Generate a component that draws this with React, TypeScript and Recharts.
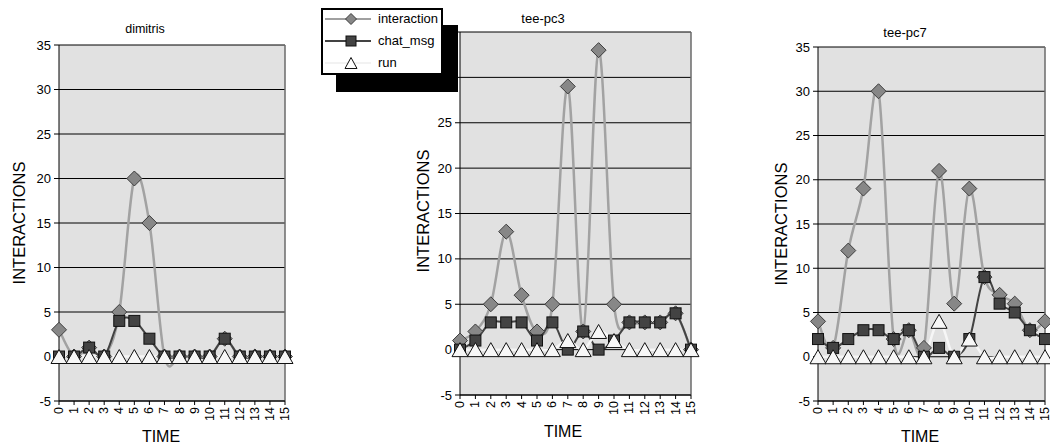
import React from 'react';
import { LineChart, Line, XAxis, YAxis, CartesianGrid, ReferenceLine, Legend } from 'recharts';

// time steps on the x axis
const TIME = [0, 1, 2, 3, 4, 5, 6, 7, 8, 9, 10, 11, 12, 13, 14, 15];
const Y_TICKS = [-5, 0, 5, 10, 15, 20, 25, 30, 35];
const SERIES = ['interaction', 'chat_msg', 'run'];

// dimitris
const dimitrisInteraction = [3, 0, 1, 0, 5, 20, 15, 0, 0, 0, 0, 2, 0, 0, 0, 0];
const dimitrisChat = [0, 0, 1, 0, 4, 4, 2, 0, 0, 0, 0, 2, 0, 0, 0, 0];
const dimitrisRun = [0, 0, 0, 0, 0, 0, 0, 0, 0, 0, 0, 0, 0, 0, 0, 0];

// tee-pc3
const pc3Interaction = [1, 2, 5, 13, 6, 2, 5, 29, 2, 33, 5, 3, 3, 3, 4, 0];
const pc3Chat = [0, 1, 3, 3, 3, 1, 3, 0, 2, 0, 1, 3, 3, 3, 4, 0];
const pc3Run = [0, 0, 0, 0, 0, 0, 0, 1, 0, 2, 1, 0, 0, 0, 0, 0];

// tee-pc7
const pc7Interaction = [4, 1, 12, 19, 30, 2, 3, 1, 21, 6, 19, 9, 7, 6, 3, 4];
const pc7Chat = [2, 1, 2, 3, 3, 2, 3, 0, 1, 0, 2, 9, 6, 5, 3, 2];
const pc7Run = [0, 0, 0, 0, 0, 0, 0, 0, 4, 0, 2, 0, 0, 0, 0, 0];

const FONT = '"Liberation Sans", Arial, sans-serif';

const build = (a: number[], b: number[], c: number[]) =>
  TIME.map((t, i) => ({ t, interaction: a[i], chat_msg: b[i], run: c[i] }));

// Excel-like smoothed line (catmull-rom through the points)
const smoothCurve: any = (context: any) => {
  let pts: number[][] = [];
  return {
    areaStart() {},
    areaEnd() {},
    lineStart() {
      pts = [];
    },
    point(x: number, y: number) {
      pts.push([+x, +y]);
    },
    lineEnd() {
      const n = pts.length;
      if (!n) return;
      context.moveTo(pts[0][0], pts[0][1]);
      for (let i = 0; i < n - 1; i++) {
        const p0 = pts[Math.max(i - 1, 0)];
        const p1 = pts[i];
        const p2 = pts[i + 1];
        const p3 = pts[Math.min(i + 2, n - 1)];
        context.bezierCurveTo(
          p1[0] + (p2[0] - p0[0]) / 6,
          p1[1] + (p2[1] - p0[1]) / 6,
          p2[0] - (p3[0] - p1[0]) / 6,
          p2[1] - (p3[1] - p1[1]) / 6,
          p2[0],
          p2[1]
        );
      }
    },
  };
};

const diamond = (cx: number, cy: number, r: number) =>
  `M${cx},${cy - r}L${cx + r},${cy}L${cx},${cy + r}L${cx - r},${cy}Z`;
const triangle = (cx: number, cy: number, w: number, h: number) =>
  `M${cx},${cy - h}L${cx + w},${cy + h}L${cx - w},${cy + h}Z`;

const DiamondDot = (props: any) => {
  const { cx, cy, index } = props;
  if (cx == null || cy == null) return <g key={`dm-${index}`} />;
  return <path key={`dm-${index}`} d={diamond(cx, cy, 7.5)} fill="#878787" stroke="#3c3c3c" strokeWidth={1} />;
};

const SquareDot = (props: any) => {
  const { cx, cy, index } = props;
  if (cx == null || cy == null) return <g key={`sq-${index}`} />;
  return <rect key={`sq-${index}`} x={cx - 5.5} y={cy - 5.5} width={11} height={11} fill="#434343" stroke="#111" strokeWidth={1} />;
};

const TriangleDot = (props: any) => {
  const { cx, cy, index } = props;
  if (cx == null || cy == null) return <g key={`tr-${index}`} />;
  return <path key={`tr-${index}`} d={triangle(cx, cy, 8, 7)} fill="#f7f7f7" stroke="#111" strokeWidth={1} />;
};

const TimeTick = (props: any) => {
  const { x, y, payload } = props;
  return (
    <text
      x={x}
      y={y}
      transform={`rotate(-90, ${x}, ${y})`}
      textAnchor="end"
      dominantBaseline="central"
      fontSize={12.5}
      fill="#000"
      fontFamily={FONT}
    >
      {payload.value}
    </text>
  );
};

const legendIcon = (name: string) => {
  if (name === 'interaction')
    return (
      <g>
        <line x1={2} y1={10} x2={48} y2={10} stroke="#a0a0a0" strokeWidth={2} />
        <path d={diamond(28, 10, 5.5)} fill="#878787" stroke="#3c3c3c" />
      </g>
    );
  if (name === 'chat_msg')
    return (
      <g>
        <line x1={2} y1={10} x2={48} y2={10} stroke="#434343" strokeWidth={2} />
        <rect x={23} y={5} width={10} height={10} fill="#434343" stroke="#111" />
      </g>
    );
  return (
    <g>
      <line x1={2} y1={10} x2={48} y2={10} stroke="#f2f2f2" strokeWidth={2} />
      <path d={triangle(28, 10, 6, 5.5)} fill="#fff" stroke="#111" />
    </g>
  );
};

// keeps the series order of the workbook legend
const LegendBox = () => (
  <div
    style={{
      position: 'relative',
      width: 122,
      height: 67,
      boxSizing: 'border-box',
      background: '#fff',
      border: '2px solid #000',
      boxShadow: '15px 17px 0 #000',
      fontFamily: FONT,
      fontSize: 13,
      color: '#000',
    }}
  >
    {SERIES.map((name, i) => (
      <div key={name} style={{ position: 'absolute', left: 0, top: i * 22 - 2, height: 22, display: 'flex', alignItems: 'center' }}>
        <svg width={54} height={20} style={{ display: 'block' }}>
          {legendIcon(name)}
        </svg>
        <span style={{ marginLeft: 1, lineHeight: '20px' }}>{name}</span>
      </div>
    ))}
  </div>
);

type PanelProps = {
  left: number;
  width: number;
  top: number;
  yAxisWidth: number;
  xAxisHeight: number;
  right: number;
  data: any[];
  legend?: boolean;
};

const Panel = ({ left, width, top, yAxisWidth, xAxisHeight, right, data, legend }: PanelProps) => (
  <div style={{ position: 'absolute', left, top: 0 }}>
    <LineChart width={width} height={445} data={data} margin={{ top, right, left: 0, bottom: 0 }}>
      <CartesianGrid vertical={false} stroke="#000" strokeWidth={1} fill="#e1e1e1" fillOpacity={1} />
      <XAxis
        dataKey="t"
        interval={0}
        height={xAxisHeight}
        tick={<TimeTick />}
        tickSize={4}
        tickMargin={2}
        axisLine={{ stroke: '#000' }}
        tickLine={{ stroke: '#000' }}
      />
      <YAxis
        type="number"
        domain={[-5, 35]}
        ticks={Y_TICKS}
        interval={0}
        width={yAxisWidth}
        tick={{ fontSize: 13, fill: '#000', fontFamily: FONT }}
        tickSize={5}
        tickMargin={3}
        axisLine={{ stroke: '#000' }}
        tickLine={{ stroke: '#000' }}
      />
      <ReferenceLine x={15} stroke="#6a6a6a" strokeWidth={1.5} />
      <Line
        dataKey="interaction"
        name="interaction"
        type={smoothCurve}
        stroke="#a2a2a2"
        strokeWidth={2.5}
        dot={DiamondDot}
        activeDot={false}
        isAnimationActive={false}
      />
      <Line
        dataKey="chat_msg"
        name="chat_msg"
        type={smoothCurve}
        stroke="#434343"
        strokeWidth={2}
        dot={SquareDot}
        activeDot={false}
        isAnimationActive={false}
      />
      <Line
        dataKey="run"
        name="run"
        type={smoothCurve}
        stroke="#f6f6f6"
        strokeWidth={2.5}
        dot={TriangleDot}
        activeDot={false}
        isAnimationActive={false}
      />
      {legend && (
        <Legend
          layout="horizontal"
          verticalAlign="middle"
          align="center"
          content={<LegendBox />}
          wrapperStyle={{ left: 21, top: 8, width: 122, height: 67 }}
        />
      )}
    </LineChart>
  </div>
);

const textStyle = (x: number, y: number, size: number, rotate = false): React.CSSProperties => ({
  position: 'absolute',
  left: x,
  top: y,
  transform: `translate(-50%, -50%)${rotate ? ' rotate(-90deg)' : ''}`,
  fontFamily: FONT,
  fontSize: size,
  color: '#000',
  whiteSpace: 'nowrap',
  lineHeight: 1,
});

export default function App() {
  return (
    <div style={{ position: 'absolute', left: 0, top: 0, width: 1050, height: 445, background: '#fff', overflow: 'hidden' }}>
      <Panel left={0} width={300} top={45} right={15} yAxisWidth={59} xAxisHeight={44} data={build(dimitrisInteraction, dimitrisChat, dimitrisRun)} />
      <Panel left={300} width={405} top={32} right={14} yAxisWidth={160} xAxisHeight={50} data={build(pc3Interaction, pc3Chat, pc3Run)} legend />
      <Panel left={740} width={310} top={47} right={5} yAxisWidth={78} xAxisHeight={44} data={build(pc7Interaction, pc7Chat, pc7Run)} />

      <div style={textStyle(145, 29, 12.5)}>dimitris</div>
      <div style={textStyle(543, 18, 13)}>tee-pc3</div>
      <div style={textStyle(905, 32, 13)}>tee-pc7</div>

      <div style={textStyle(19, 223, 16.5, true)}>INTERACTIONS</div>
      <div style={textStyle(423, 211, 16.5, true)}>INTERACTIONS</div>
      <div style={textStyle(781, 224, 16.5, true)}>INTERACTIONS</div>

      <div style={textStyle(161, 437, 16)}>TIME</div>
      <div style={textStyle(563, 432, 16)}>TIME</div>
      <div style={textStyle(920, 437, 16)}>TIME</div>
    </div>
  );
}
